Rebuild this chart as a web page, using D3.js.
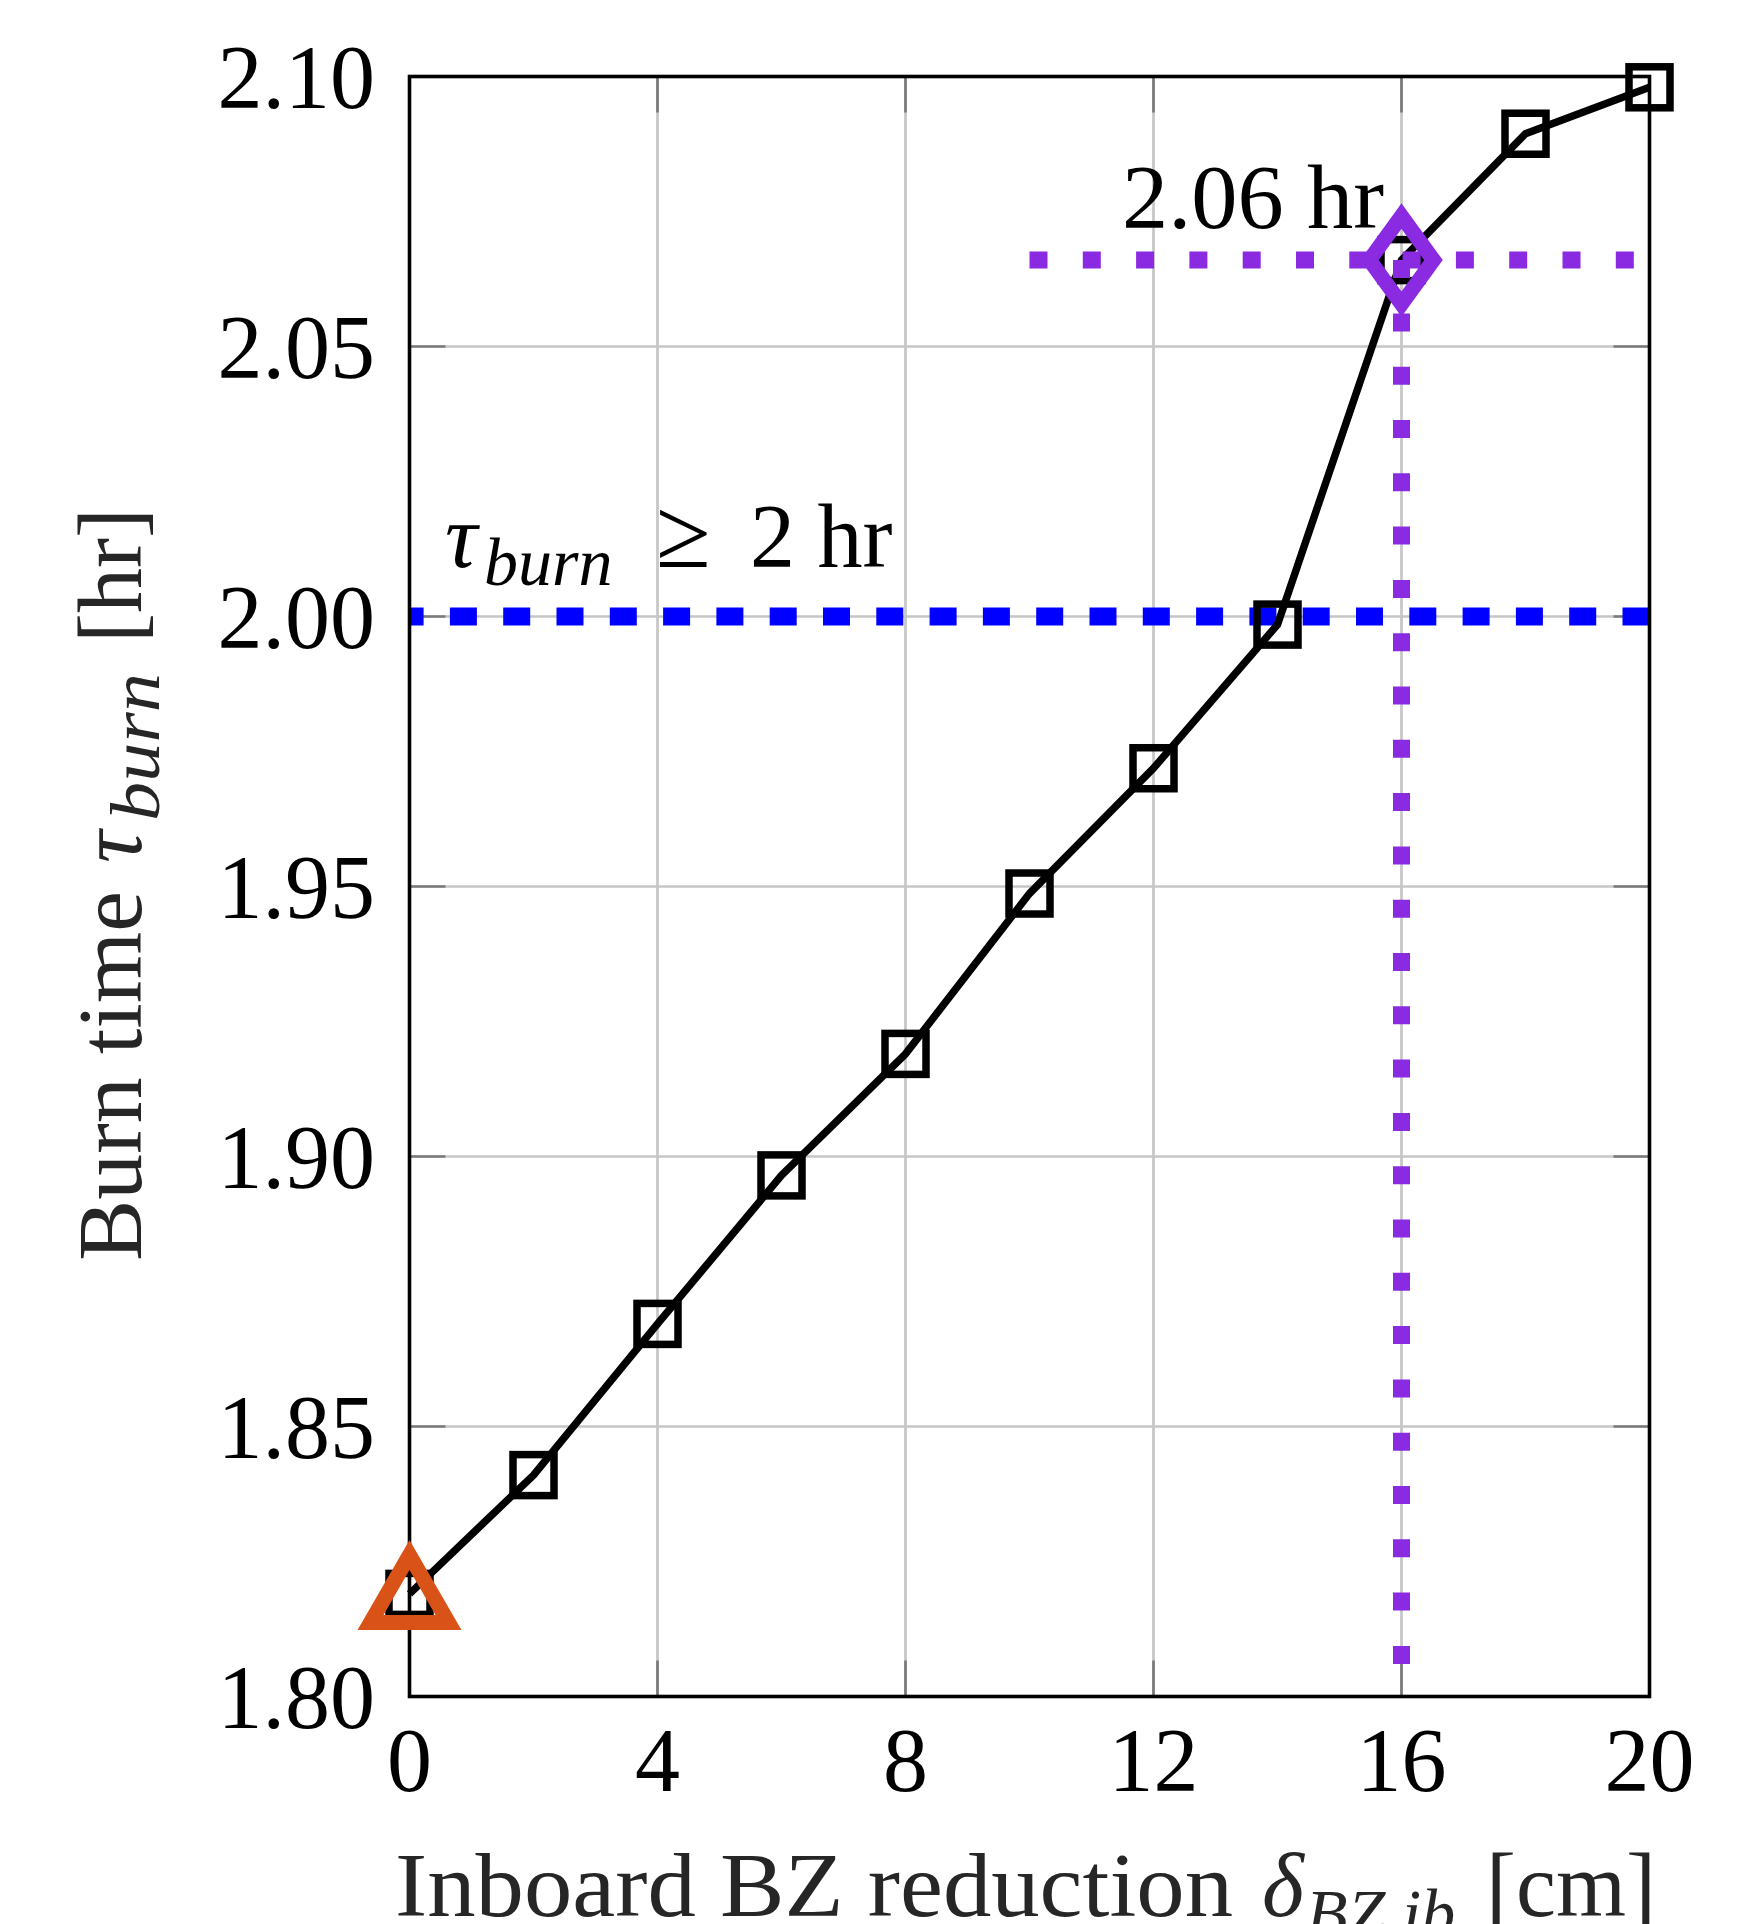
<!DOCTYPE html>
<html>
<head>
<meta charset="utf-8">
<script src="https://cdn.jsdelivr.net/npm/d3@7"></script>
<style>
  html, body { margin: 0; padding: 0; background: #fff; }
  svg { display: block; }
  text { font-family: "Liberation Serif", "Times New Roman", serif; }
</style>
</head>
<body>
<svg id="chart" width="1764" height="1924"></svg>
<script>
// ---- data ----
const bzReduction = [0, 2, 4, 6, 8, 10, 12, 14, 16, 18, 20];          // cm
const burnTime    = [1.819, 1.841, 1.869, 1.8965, 1.919, 1.9487, 1.9719, 1.9985, 2.066, 2.0894, 2.098]; // hr
const xTicks = [0, 4, 8, 12, 16, 20];
const yTicks = [1.80, 1.85, 1.90, 1.95, 2.00, 2.05, 2.10];
const thresholdValue = 2.00;          // tau_burn >= 2 hr
const selectedX = 16;                 // chosen design point
const selectedY = 2.066;              // 2.06 hr
const selectedLineStartX = 10;        // horizontal dotted guide from here
const baselineIndex = 0;              // reference design (triangle)

// ---- layout ----
const svg = d3.select("#chart");
const x = d3.scaleLinear().domain([0, 20]).range([409.5, 1649.5]);
const y = d3.scaleLinear().domain([1.80, 2.10]).range([1696.5, 76.5]);
const [x0, x1] = x.range();
const [y0, y1] = y.range();

const gridColor = "#c6c6c6";
const tickColor = "#7a7a7a";
const tickLen = 36;

// grid
const grid = svg.append("g");
grid.selectAll("line.gx").data(xTicks).join("line")
  .attr("x1", d => x(d)).attr("x2", d => x(d))
  .attr("y1", y1).attr("y2", y0)
  .attr("stroke", gridColor).attr("stroke-width", 2.7);
grid.selectAll("line.gy").data(yTicks).join("line")
  .attr("class", "gy")
  .attr("x1", x0).attr("x2", x1)
  .attr("y1", d => y(d)).attr("y2", d => y(d))
  .attr("stroke", gridColor).attr("stroke-width", 2.7);

// inward ticks on all four sides
const ticks = svg.append("g").attr("stroke", tickColor).attr("stroke-width", 2.7);
xTicks.forEach(d => {
  ticks.append("line").attr("x1", x(d)).attr("x2", x(d)).attr("y1", y0).attr("y2", y0 - tickLen);
  ticks.append("line").attr("x1", x(d)).attr("x2", x(d)).attr("y1", y1).attr("y2", y1 + tickLen);
});
yTicks.forEach(d => {
  ticks.append("line").attr("x1", x0).attr("x2", x0 + tickLen).attr("y1", y(d)).attr("y2", y(d));
  ticks.append("line").attr("x1", x1).attr("x2", x1 - tickLen).attr("y1", y(d)).attr("y2", y(d));
});

// blue dashed threshold line (drawn right to left)
svg.append("line")
  .attr("x1", x(20)).attr("x2", x(0))
  .attr("y1", y(thresholdValue)).attr("y2", y(thresholdValue))
  .attr("stroke", "#0000ff").attr("stroke-width", 18)
  .attr("stroke-dasharray", "27 26.3");

// main line
const data = bzReduction.map((d, i) => ({ x: d, y: burnTime[i] }));
svg.append("path")
  .datum(data)
  .attr("d", d3.line().x(d => x(d.x)).y(d => y(d.y)))
  .attr("fill", "none").attr("stroke", "#000").attr("stroke-width", 7.5)
  .attr("stroke-linejoin", "miter");

// square markers
const sq = 41;
svg.selectAll("rect.m").data(data).join("rect")
  .attr("x", d => x(d.x) - sq / 2).attr("y", d => y(d.y) - sq / 2)
  .attr("width", sq).attr("height", sq)
  .attr("fill", "none").attr("stroke", "#000").attr("stroke-width", 7.5);

// purple dotted guides
const purple = "#8a2be2";
svg.append("line")
  .attr("x1", x(selectedLineStartX)).attr("x2", x(20))
  .attr("y1", y(selectedY)).attr("y2", y(selectedY))
  .attr("stroke", purple).attr("stroke-width", 17)
  .attr("stroke-dasharray", "18 35.3");
svg.append("line")
  .attr("x1", x(selectedX)).attr("x2", x(selectedX))
  .attr("y1", y(selectedY)).attr("y2", y(1.80))
  .attr("stroke", purple).attr("stroke-width", 17)
  .attr("stroke-dasharray", "18 35.3");

// axes box
svg.append("rect")
  .attr("x", x0).attr("y", y1).attr("width", x1 - x0).attr("height", y0 - y1)
  .attr("fill", "none").attr("stroke", "#000").attr("stroke-width", 3.6);

// triangle (baseline design)
const bx = x(bzReduction[baselineIndex]), by = y(burnTime[baselineIndex]);
svg.append("path")
  .attr("d", `M${bx},${by - 39} L${bx + 39},${by + 28.5} L${bx - 39},${by + 28.5} Z`)
  .attr("fill", "none").attr("stroke", "#d95319").attr("stroke-width", 15)
  .attr("stroke-linejoin", "miter").attr("stroke-miterlimit", 10);

// diamond (selected design)
const dx = x(selectedX), dy = y(selectedY);
svg.append("path")
  .attr("d", `M${dx},${dy - 44} L${dx + 32},${dy} L${dx},${dy + 44} L${dx - 32},${dy} Z`)
  .attr("fill", "none").attr("stroke", purple).attr("stroke-width", 15)
  .attr("stroke-linejoin", "miter").attr("stroke-miterlimit", 10);

// tick labels
const fs = 90;
svg.append("g").selectAll("text").data(xTicks).join("text")
  .attr("x", d => x(d)).attr("y", 1791)
  .attr("text-anchor", "middle").attr("font-size", fs).attr("fill", "#000")
  .text(d => d3.format("d")(d));
svg.append("g").selectAll("text").data(yTicks).join("text")
  .attr("x", 375).attr("y", d => y(d) + 31)
  .attr("text-anchor", "end").attr("font-size", fs).attr("fill", "#000")
  .text(d => d3.format(".2f")(d));

// annotations
svg.append("text").attr("x", 1122).attr("y", 228)
  .attr("font-size", fs).attr("fill", "#000")
  .attr("textLength", 262).attr("lengthAdjust", "spacingAndGlyphs")
  .text("2.06 hr");

const thr = svg.append("text").attr("y", 567).attr("font-size", fs).attr("fill", "#000");
thr.append("tspan").attr("x", 445).attr("font-style", "italic").text("τ");
thr.append("tspan").attr("x", 484).attr("dy", 18).attr("font-style", "italic")
  .attr("font-size", 68).text("burn");
thr.append("tspan").attr("x", 656).attr("dy", -18).attr("font-size", 100).text("≥");
thr.append("tspan").attr("x", 750).text("2 hr");

// axis labels
const labColor = "#262626";
svg.append("text").attr("x", 395).attr("y", 1916)
  .attr("font-size", fs).attr("fill", labColor)
  .attr("textLength", 838).attr("lengthAdjust", "spacingAndGlyphs")
  .text("Inboard BZ reduction");
const xl = svg.append("text").attr("y", 1916).attr("font-size", fs).attr("fill", labColor);
xl.append("tspan").attr("x", 1262).attr("font-style", "italic").text("δ");
xl.append("tspan").attr("x", 1306).attr("dy", 20).attr("font-style", "italic")
  .attr("font-size", 68).text("BZ,ib");
xl.append("tspan").attr("x", 1486).attr("dy", -20).text("[cm]");

const ylg = svg.append("g").attr("transform", "translate(141,1261) rotate(-90)");
ylg.append("text").attr("x", 0).attr("font-size", fs).attr("fill", labColor)
  .attr("textLength", 370).attr("lengthAdjust", "spacingAndGlyphs")
  .text("Burn time");
ylg.append("text").attr("x", 398).attr("font-size", fs).attr("fill", labColor)
  .attr("font-style", "italic").text("τ");
ylg.append("text").attr("x", 440).attr("y", 18).attr("font-size", 70).attr("fill", labColor)
  .attr("font-style", "italic")
  .attr("textLength", 148).attr("lengthAdjust", "spacingAndGlyphs")
  .text("burn");
ylg.append("text").attr("x", 618).attr("font-size", fs).attr("fill", labColor)
  .text("[hr]");
</script>
</body>
</html>
